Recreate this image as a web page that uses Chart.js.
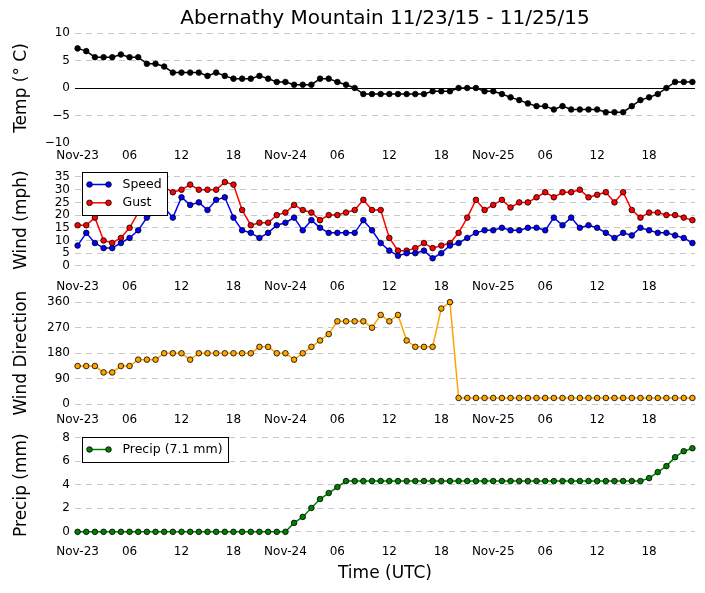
<!DOCTYPE html>
<html>
<head>
<meta charset="utf-8">
<script src="https://cdn.jsdelivr.net/npm/chart.js@4.4.1/dist/chart.umd.min.js"></script>
<style>
  body { margin: 0; background: #fff; }
  #wrap { position: relative; width: 705px; height: 593px; overflow: hidden; }
  #wrap canvas { position: absolute; left: 0; }
</style>
</head>
<body>
<div id="wrap">
  <canvas id="tempChart" width="705" height="173" style="top:0px"></canvas>
  <canvas id="windChart" width="705" height="151" style="top:154px"></canvas>
  <canvas id="dirChart" width="705" height="151" style="top:287px"></canvas>
  <canvas id="precipChart" width="705" height="169" style="top:419px"></canvas>
</div>
<script>
// hourly observations, hours since Nov-23 00 UTC
const hours = Array.from({ length: 72 }, (_, i) => i);
const tickHours = [0, 6, 12, 18, 24, 30, 36, 42, 48, 54, 60, 66];
const tickLabels = ["Nov-23", "06", "12", "18", "Nov-24", "06", "12", "18", "Nov-25", "06", "12", "18"];

const tempC = [
    7.2, 6.7, 5.6, 5.6, 5.6, 6.1, 5.6, 5.6, 4.4, 4.4, 3.9, 2.8,
    2.8, 2.8, 2.8, 2.2, 2.8, 2.2, 1.7, 1.7, 1.7, 2.2, 1.7, 1.1,
    1.1, 0.6, 0.6, 0.6, 1.7, 1.7, 1.1, 0.6, 0.0, -1.1, -1.1, -1.1,
    -1.1, -1.1, -1.1, -1.1, -1.1, -0.6, -0.6, -0.6, 0.0, 0.0, 0.0, -0.6,
    -0.6, -1.1, -1.7, -2.2, -2.8, -3.3, -3.3, -3.9, -3.3, -3.9, -3.9, -3.9,
    -3.9, -4.4, -4.4, -4.4, -3.3, -2.2, -1.7, -1.1, 0.0, 1.1, 1.1, 1.1
];
const windSpeed = [
    8, 13, 9, 7, 7, 9, 11, 14, 19, 21, 23, 19,
    27, 24, 25, 22, 26, 27, 19, 14, 13, 11, 13, 16,
    17, 19, 14, 18, 15, 13, 13, 13, 13, 18, 14, 9,
    6, 4, 5, 5, 6, 3, 5, 8, 9, 11, 13, 14,
    14, 15, 14, 14, 15, 15, 14, 19, 16, 19, 15, 16,
    15, 13, 11, 13, 12, 15, 14, 13, 13, 12, 11, 9
];
const windGust = [
    16, 16, 19, 10, 9, 11, 15, 21, 26, 30, 31, 29,
    30, 32, 30, 30, 30, 33, 32, 22, 16, 17, 17, 20,
    21, 24, 22, 21, 18, 20, 20, 21, 22, 26, 22, 22,
    11, 6, 6, 7, 9, 7, 8, 9, 13, 19, 26, 22,
    24, 26, 23, 25, 25, 27, 29, 27, 29, 29, 30, 27,
    28, 29, 25, 29, 22, 19, 21, 21, 20, 20, 19, 18
];
const windDir = [
    135, 135, 135, 112.5, 112.5, 135, 135, 157.5, 157.5, 157.5, 180, 180,
    180, 157.5, 180, 180, 180, 180, 180, 180, 180, 202.5, 202.5, 180,
    180, 157.5, 180, 202.5, 225, 247.5, 292.5, 292.5, 292.5, 292.5, 270, 315,
    292.5, 315, 225, 202.5, 202.5, 202.5, 337.5, 360, 22.5, 22.5, 22.5, 22.5,
    22.5, 22.5, 22.5, 22.5, 22.5, 22.5, 22.5, 22.5, 22.5, 22.5, 22.5, 22.5,
    22.5, 22.5, 22.5, 22.5, 22.5, 22.5, 22.5, 22.5, 22.5, 22.5, 22.5, 22.5
];
const precipMm = [
    0, 0, 0, 0, 0, 0, 0, 0, 0, 0, 0, 0,
    0, 0, 0, 0, 0, 0, 0, 0, 0, 0, 0, 0,
    0, 0.76, 1.27, 2.03, 2.79, 3.30, 3.81, 4.32, 4.32, 4.32, 4.32, 4.32,
    4.32, 4.32, 4.32, 4.32, 4.32, 4.32, 4.32, 4.32, 4.32, 4.32, 4.32, 4.32,
    4.32, 4.32, 4.32, 4.32, 4.32, 4.32, 4.32, 4.32, 4.32, 4.32, 4.32, 4.32,
    4.32, 4.32, 4.32, 4.32, 4.32, 4.32, 4.57, 5.08, 5.59, 6.35, 6.86, 7.11
];

const tempTicks = [-10, -5, 0, 5, 10];
const windTicks = [0, 5, 10, 15, 20, 25, 30, 35];
const dirTicks = [0, 90, 180, 270, 360];
const precipTicks = [0, 2, 4, 6, 8];

const GRID = "#c8c8c8";
const FONT = "'DejaVu Sans', 'Liberation Sans', sans-serif";
Chart.defaults.font.family = FONT;
Chart.defaults.font.size = 12;
Chart.defaults.color = "#000";

// matplotlib-style legend: white box, black frame, line with two markers
const boxLegend = {
    id: "boxLegend",
    afterDatasetsDraw(chart, args, opts) {
        if (!opts.show) return;
        const { ctx, chartArea } = chart;
        const sets = chart.data.datasets;
        ctx.save();
        ctx.font = "12.5px " + FONT;
        const textW = Math.max(...sets.map((d) => ctx.measureText(d.label).width));
        const x = Math.round(chartArea.left + opts.dx) + 0.5;
        const y = Math.round(chartArea.top + opts.dy) + 0.5;
        const w = Math.round(40 + textW + 6);
        const h = Math.round(12 + 18.3 * (sets.length - 1) + 12.5);
        ctx.fillStyle = "#fff";
        ctx.fillRect(x, y, w, h);
        ctx.strokeStyle = "#000";
        ctx.lineWidth = 1;
        ctx.strokeRect(x, y, w, h);
        sets.forEach((d, i) => {
            const cy = y + 12 + 18.3 * i;
            ctx.strokeStyle = d.borderColor;
            ctx.lineWidth = 1.5;
            ctx.beginPath();
            ctx.moveTo(x + 7, cy);
            ctx.lineTo(x + 26, cy);
            ctx.stroke();
            [x + 7, x + 26].forEach((px) => {
                ctx.beginPath();
                ctx.arc(px, cy, 2.8, 0, Math.PI * 2);
                ctx.fillStyle = d.pointBackgroundColor;
                ctx.fill();
                ctx.strokeStyle = "#000";
                ctx.lineWidth = 0.8;
                ctx.stroke();
            });
            ctx.fillStyle = "#000";
            ctx.textBaseline = "middle";
            ctx.textAlign = "left";
            ctx.fillText(d.label, x + 40, cy);
        });
        ctx.restore();
    },
};

function series(label, values, color) {
    return {
        label: label,
        data: values,
        borderColor: color,
        borderWidth: 1.5,
        tension: 0,
        pointRadius: 2.8,
        pointHoverRadius: 2.8,
        pointBackgroundColor: color,
        pointBorderColor: "#000",
        pointBorderWidth: 0.8,
        clip: false,
    };
}

function minusSign(v) {
    return String(v).replace("-", "\u2212");
}

function panel(id, cfg) {
    const ctx = document.getElementById(id).getContext("2d");
    return new Chart(ctx, {
        type: "line",
        data: { labels: hours, datasets: cfg.datasets },
        plugins: [boxLegend],
        options: {
            responsive: false,
            animation: false,
            events: [],
            layout: { padding: { top: cfg.padTop, right: 10, left: 0, bottom: 0 } },
            plugins: {
                legend: { display: false },
                tooltip: { enabled: false },
                title: cfg.title
                    ? {
                          display: true,
                          text: cfg.title,
                          fullSize: false,
                          color: "#000",
                          font: { size: 20, weight: "normal" },
                          padding: { top: 7, bottom: 2 },
                      }
                    : { display: false },
                boxLegend: cfg.legend || { show: false },
            },
            scales: {
                x: {
                    type: "linear",
                    min: -0.3,
                    max: 71.3,
                    afterBuildTicks: (s) => {
                        s.ticks = tickHours.map((v) => ({ value: v }));
                    },
                    afterFit: (s) => {
                        s.height = cfg.xHeight;
                    },
                    grid: { display: false, drawTicks: false },
                    border: { display: false },
                    ticks: {
                        autoSkip: false,
                        maxRotation: 0,
                        padding: 6,
                        color: "#000",
                        callback: (v, i) => tickLabels[i],
                    },
                    title: cfg.xTitle
                        ? {
                              display: true,
                              text: cfg.xTitle,
                              color: "#000",
                              font: { size: 17 },
                              padding: { top: 0, bottom: 4 },
                          }
                        : { display: false },
                },
                y: {
                    min: cfg.yMin,
                    max: cfg.yMax,
                    afterBuildTicks: (s) => {
                        s.ticks = cfg.yTicks.map((v) => ({ value: v }));
                    },
                    afterFit: (s) => {
                        s.width = 75;
                    },
                    grid: {
                        drawTicks: false,
                        lineWidth: 1,
                        color: (c) => (cfg.gridColor ? cfg.gridColor(c.tick) : GRID),
                    },
                    border: {
                        display: false,
                        dash: (c) => (c.tick && cfg.solidAt === c.tick.value ? [] : [6, 5]),
                    },
                    ticks: {
                        autoSkip: false,
                        padding: 5,
                        color: "#000",
                        callback: (v) => minusSign(v),
                    },
                    title: {
                        display: true,
                        text: cfg.yTitle,
                        color: "#000",
                        font: { size: 17 },
                        padding: { top: 11, bottom: 0 },
                    },
                },
            },
        },
    });
}

document.addEventListener("DOMContentLoaded", () => {
    panel("tempChart", {
        title: "Abernathy Mountain 11/23/15 - 11/25/15",
        padTop: 0,
        xHeight: 30,
        yMin: -10,
        yMax: 10,
        yTicks: tempTicks,
        yTitle: "Temp (\u00b0 C)",
        solidAt: 0,
        gridColor: (t) => {
            if (!t) return GRID;
            if (t.value === 0) return "#000";
            if (t.value === -10) return "rgba(0,0,0,0)";
            return GRID;
        },
        datasets: [series("Temp", tempC, "#000")],
    });

    panel("windChart", {
        padTop: 10,
        xHeight: 31,
        yMin: -3.2,
        yMax: 39.25,
        yTicks: windTicks,
        yTitle: "Wind (mph)",
        legend: { show: true, dx: 7, dy: 6 },
        datasets: [
            series("Speed", windSpeed, "#0000ff"),
            series("Gust", windGust, "#ff0000"),
        ],
    });

    panel("dirChart", {
        padTop: 10,
        xHeight: 31,
        yMin: -9.3,
        yMax: 370.4,
        yTicks: dirTicks,
        yTitle: "Wind Direction",
        datasets: [series("Direction", windDir, "#ffa500")],
    });

    panel("precipChart", {
        padTop: 10,
        xHeight: 49,
        yMin: -0.61,
        yMax: 8.56,
        yTicks: precipTicks,
        yTitle: "Precip (mm)",
        xTitle: "Time (UTC)",
        legend: { show: true, dx: 7, dy: 5.5 },
        datasets: [series("Precip (7.1 mm)", precipMm, "#008000")],
    });
});
</script>
</body>
</html>
